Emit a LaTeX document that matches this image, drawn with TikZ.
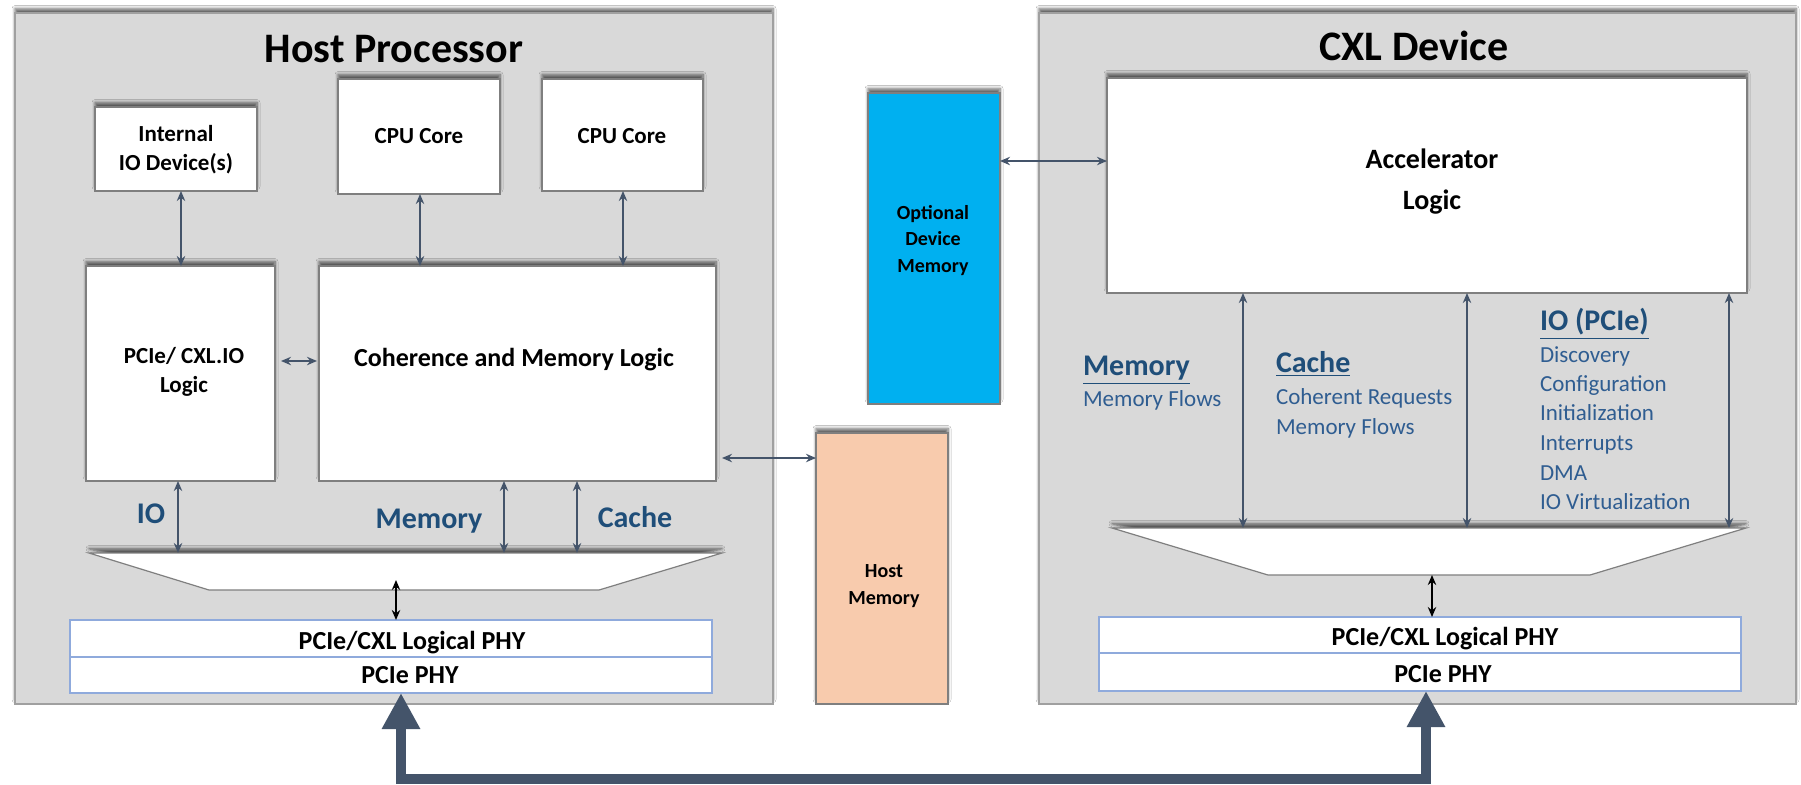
\documentclass[tikz,border=0pt]{standalone}
\usepackage{fontspec}
\setmainfont{Carlito}
\usetikzlibrary{arrows.meta,fit,shadows.blur,calc}
\definecolor{panel}{HTML}{D9D9D9}
\definecolor{panelline}{HTML}{A0A0A0}
\definecolor{boxline}{HTML}{7F7F7F}
\definecolor{slate}{HTML}{44546A}
\definecolor{hblue}{HTML}{1F4E79}
\definecolor{iblue}{HTML}{2F5D91}
\definecolor{phyline}{HTML}{8FAADC}
\definecolor{peach}{HTML}{F8CBAD}
\definecolor{cyanmem}{HTML}{00B0F0}
\tikzset{
  every node/.style={inner sep=0pt, outer sep=0pt},
  sh/.style={blur shadow={shadow xshift=0pt, shadow yshift=2.2pt, shadow blur radius=1.5pt, shadow blur steps=6, shadow opacity=60}},
  panelbox/.style={fit={#1}, draw=panelline, fill=panel, line width=0.6pt, sh},
  wbox/.style={fit={#1}, draw=boxline, fill=white, line width=0.6pt, sh},
  membox/.style={fit={#1}, draw=boxline, line width=0.6pt, sh},
  phybox/.style={fit={#1}, draw=phyline, fill=white, line width=0.7pt},
  area/.style={fit={#1}},
  trapz/.style={draw=boxline, fill=white, line width=0.6pt, sh},
  titletxt/.style={text height=13.5pt, text depth=0pt, font=\fontsize{21}{25}\selectfont\bfseries},
  boxtxt/.style={text height=7.4pt, text depth=0pt, font=\fontsize{11.5}{15}\selectfont\bfseries},
  cohtxt/.style={text height=8.4pt, text depth=0pt, font=\fontsize{13}{16}\selectfont\bfseries},
  acctxt/.style={text height=9.0pt, text depth=0pt, font=\fontsize{14}{17}\selectfont\bfseries},
  memtxt/.style={text height=6.44pt, text depth=0pt, font=\fontsize{10}{12}\selectfont\bfseries},
  phytxt/.style={text height=8.4pt, text depth=0pt, font=\fontsize{13}{16}\selectfont\bfseries},
  lbl/.style={text height=9.66pt, text depth=0pt, text=hblue, font=\fontsize{15}{18}\selectfont\bfseries},
  hdr/.style={text height=9.66pt, text depth=0pt, anchor=west, text=hblue, font=\fontsize{15}{18}\selectfont\bfseries},
  itm/.style={text height=7.4pt, text depth=0pt, anchor=west, text=iblue, font=\fontsize{11.5}{14}\selectfont},
  darr/.style={draw=slate, line width=0.8pt, {Stealth[length=5pt,width=4.2pt]}-{Stealth[length=5pt,width=4.2pt]}},
  barr/.style={draw=black, line width=0.8pt, {Stealth[length=5pt,width=4.2pt]}-{Stealth[length=5pt,width=4.2pt]}},
  bus/.style={draw=slate, line width=5pt, line join=miter, {Triangle[width=18pt,length=18pt]}-{Triangle[width=18pt,length=18pt]}}
}
\begin{document}
\begin{tikzpicture}[x=0.5pt,y=-0.5pt]
\useasboundingbox (0,0) rectangle (1801,784);
\fill[white] (0,0) rectangle (1801,784);

% panels
\node[panelbox={(15,13)(773,704)}] (host) {};
\node[panelbox={(1039,13)(1796,704)}] (dev) {};
\node[titletxt] (hosttitle) at (394,49) {Host Processor};
\node[titletxt] (devtitle) at (1414,47) {CXL Device};

% host blocks
\node[wbox={(95,107)(257,191)}] (iodev) {};
\node[boxtxt] (iodevA) at (176,134) {Internal};
\node[boxtxt] (iodevB) at (176,163) {IO Device(s)};
\node[wbox={(338,79)(500,194)}] (cpuA) {};
\node[boxtxt] (cpuAtxt) at (419,136) {CPU Core};
\node[wbox={(542,79)(703,191)}] (cpuB) {};
\node[boxtxt] (cpuBtxt) at (622,136) {CPU Core};
\node[wbox={(86,266)(275,481)}] (pcieio) {};
\node[boxtxt] (pcieioA) at (184,356) {PCIe/ CXL.IO};
\node[boxtxt] (pcieioB) at (184,385) {Logic};
\node[wbox={(319,266)(716,481)}] (coh) {};
\node[cohtxt] (cohlabel) at (514,358) {Coherence and Memory Logic};

% memories
\node[membox={(816,433)(948,704)}, fill=peach] (hostmem) {};
\node[memtxt] (hostmemA) at (884,571) {Host};
\node[memtxt] (hostmemB) at (884,598) {Memory};
\node[membox={(868,93)(1000,404)}, fill=cyanmem] (optmem) {};
\node[memtxt] (optmemA) at (933,213) {Optional};
\node[memtxt] (optmemB) at (933,239) {Device};
\node[memtxt] (optmemC) at (933,266) {Memory};

% device blocks
\node[wbox={(1107,78)(1747,293)}] (accel) {};
\node[acctxt] (accelA) at (1432,159) {Accelerator};
\node[acctxt] (accelB) at (1432,200) {Logic};

% trapezoids
\node[area={(89,553)(722,590)}] (trapL) {};
\draw[trapz] (trapL.north west) -- (trapL.north east) -- ($(trapL.south east)+(-123,0)$) -- ($(trapL.south west)+(120,0)$) -- cycle;
\node[area={(1112,528)(1746,575)}] (trapR) {};
\draw[trapz] (trapR.north west) -- (trapR.north east) -- ($(trapR.south east)+(-156,0)$) -- ($(trapR.south west)+(156,0)$) -- cycle;

% PHY stacks
\node[phybox={(70,620)(712,657)}] (phyLa) {};
\node[phybox={(70,657)(712,693)}] (phyLb) {};
\node[phytxt] (phyLatxt) at (412,641) {PCIe/CXL Logical PHY};
\node[phytxt] (phyLbtxt) at (410,675) {PCIe PHY};
\node[phybox={(1099,617)(1741,653)}] (phyRa) {};
\node[phybox={(1099,653)(1741,691)}] (phyRb) {};
\node[phytxt] (phyRatxt) at (1445,637) {PCIe/CXL Logical PHY};
\node[phytxt] (phyRbtxt) at (1443,674) {PCIe PHY};

% helper coordinates
\coordinate (xIOa) at (181,0);
\coordinate (xIOb) at (178,0);
\coordinate (xA) at (420,0);
\coordinate (xB) at (623,0);
\coordinate (xM) at (504,0);
\coordinate (xC) at (577,0);
\coordinate (xBL) at (396,0);
\coordinate (yPC) at (0,361);
\coordinate (yHM) at (0,458);
\coordinate (yOD) at (0,161);
\coordinate (xR1) at (1243,0);
\coordinate (xR2) at (1467,0);
\coordinate (xR3) at (1729,0);
\coordinate (xBR) at (1432,0);
\coordinate (busL) at (401,779);
\coordinate (busR) at (1426,779);

% host arrows
\draw[darr] (iodev.south -| xIOa) -- (pcieio.north -| xIOa);
\draw[darr] (cpuA.south -| xA) -- (coh.north -| xA);
\draw[darr] (cpuB.south -| xB) -- (coh.north -| xB);
\draw[darr, shorten <=3pt, shorten >=1pt] (pcieio.east |- yPC) -- (coh.west |- yPC);
\draw[darr, shorten <=3pt] (coh.east |- yHM) -- (hostmem.west |- yHM);
\draw[darr] (pcieio.south -| xIOb) -- (trapL.north -| xIOb);
\draw[darr] (coh.south -| xM) -- (trapL.north -| xM);
\draw[darr] (coh.south -| xC) -- (trapL.north -| xC);
\draw[barr, shorten <=-5pt] (trapL.south -| xBL) -- (phyLa.north -| xBL);

% device arrows
\draw[darr] (optmem.east |- yOD) -- (accel.west |- yOD);
\draw[darr] (accel.south -| xR1) -- (trapR.north -| xR1);
\draw[darr] (accel.south -| xR2) -- (trapR.north -| xR2);
\draw[darr] (accel.south -| xR3) -- (trapR.north -| xR3);
\draw[barr] (trapR.south -| xBR) -- (phyRa.north -| xBR);

% host labels
\node[lbl] (lblIO) at (151,514) {IO};
\node[lbl] (lblMem) at (429,519) {Memory};
\node[lbl] (lblCache) at (635,518) {Cache};

% device labels
\node[hdr] (hMem) at (1083,366) {\underline{Memory}};
\node[itm] (iMem1) at (1083,399) {Memory Flows};
\node[hdr] (hCache) at (1276,363) {\underline{Cache}};
\node[itm] (iC1) at (1276,397) {Coherent Requests};
\node[itm] (iC2) at (1276,427) {Memory Flows};
\node[hdr] (hIO) at (1540,321) {\underline{IO (PCIe)}};
\node[itm] (iIO1) at (1540,355) {Discovery};
\node[itm] (iIO2) at (1540,384) {Configuration};
\node[itm] (iIO3) at (1540,413) {Initialization};
\node[itm] (iIO4) at (1540,443) {Interrupts};
\node[itm] (iIO5) at (1540,473) {DMA};
\node[itm] (iIO6) at (1540,502) {IO Virtualization};

% link between PHYs
\draw[bus] (phyLb.south -| busL) -- (busL) -- (busR) -- (phyRb.south -| busR);
\end{tikzpicture}
\end{document}
